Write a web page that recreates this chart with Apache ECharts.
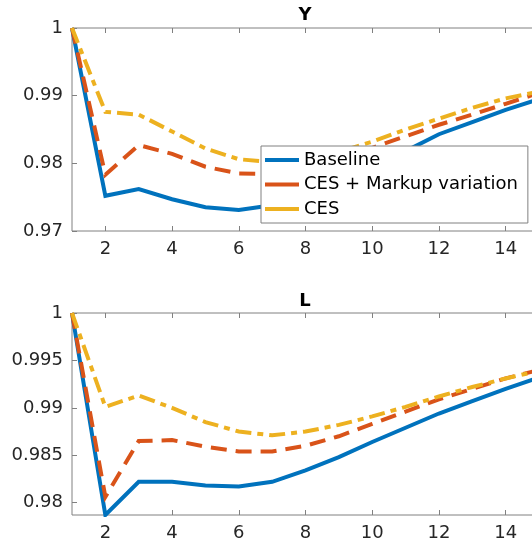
<!DOCTYPE html>
<html>
<head>
<meta charset="utf-8">
<script src="https://cdn.jsdelivr.net/npm/echarts@6/dist/echarts.min.js"></script>
<style>
html,body{margin:0;padding:0;background:#fff;}
#chart{width:532px;height:548px;}
</style>
</head>
<body>
<div id="chart"></div>
<script>
const xs = [1, 2, 3, 4, 5, 6, 7, 8, 9, 10, 11, 12, 13, 14, 15];
const xTicks = [2, 4, 6, 8, 10, 12, 14];

const yBaseline = [1, 0.9752, 0.9762, 0.9747, 0.9735, 0.9731, 0.9738, 0.9755, 0.9775, 0.9797, 0.9818, 0.9843, 0.9861, 0.9879, 0.9895];
const yMarkup   = [1, 0.9783, 0.9827, 0.9814, 0.9795, 0.9785, 0.9784, 0.9792, 0.9806, 0.9823, 0.9840, 0.9857, 0.9872, 0.9888, 0.9904];
const yCES      = [1, 0.9876, 0.9872, 0.9847, 0.9822, 0.9806, 0.9802, 0.9806, 0.9817, 0.9832, 0.9850, 0.9866, 0.9882, 0.9896, 0.9906];
const yTicks = [0.97, 0.98, 0.99, 1];

const lBaseline = [1, 0.9787, 0.9822, 0.9822, 0.9818, 0.9817, 0.9822, 0.9834, 0.9848, 0.9864, 0.9879, 0.9894, 0.9907, 0.9920, 0.9932];
const lMarkup   = [1, 0.9806, 0.9865, 0.9866, 0.9859, 0.9854, 0.9854, 0.9860, 0.9870, 0.9883, 0.9896, 0.9909, 0.9920, 0.9931, 0.9940];
const lCES      = [1, 0.9901, 0.9913, 0.9900, 0.9885, 0.9875, 0.9871, 0.9875, 0.9882, 0.9891, 0.9901, 0.9912, 0.9922, 0.9931, 0.9939];
const lTicks = [0.98, 0.985, 0.99, 0.995, 1];

const names = ['Baseline', 'CES + Markup variation', 'CES'];
const colors = ['#0072BD', '#D95319', '#EDB120'];
const dashes = ['solid', [16, 9], [16, 6, 6, 6]];

function pairs(vals) { return xs.map((x, i) => [x, vals[i]]); }

const FONT = 'DejaVu Sans';
const AX = '#808080';
const TXT = '#262626';

function xAxisDef(grid, pos, labels) {
  return {
    type: 'value', gridIndex: grid, position: pos, min: 1, max: 15,
    axisLine: { show: false },
    splitLine: { show: false },
    axisTick: { show: true, inside: true, length: 5, lineStyle: { color: AX }, customValues: xTicks },
    axisLabel: { show: labels, customValues: xTicks, color: TXT, fontFamily: FONT, fontSize: 18, margin: 9 }
  };
}
function yAxisDef(grid, min, ticks) {
  return {
    type: 'value', gridIndex: grid, min: min, max: 1,
    axisLine: { show: false },
    splitLine: { show: false },
    axisTick: { show: true, inside: true, length: 5, lineStyle: { color: AX }, customValues: ticks },
    axisLabel: {
      customValues: ticks, color: TXT, fontFamily: FONT, fontSize: 18, margin: 9,
      formatter: v => String(parseFloat(Number(v).toFixed(4)))
    }
  };
}

const sets = [[yBaseline, yMarkup, yCES], [lBaseline, lMarkup, lCES]];
const series = [];
sets.forEach((grp, g) => {
  grp.forEach((vals, k) => {
    series.push({
      name: names[k], type: 'line', xAxisIndex: g * 2, yAxisIndex: g,
      data: pairs(vals), showSymbol: false, symbol: 'none', animation: false,
      lineStyle: { color: colors[k], width: 4, type: dashes[k], cap: 'butt', join: 'miter' },
      itemStyle: { color: colors[k] }
    });
  });
});

const chart = echarts.init(document.getElementById('chart'), null, { renderer: 'canvas' });
chart.setOption({
  animation: false,
  backgroundColor: '#fff',
  title: [
    { text: 'Y', left: 300, top: 1, textAlign: 'center', textStyle: { fontFamily: FONT, fontSize: 18, fontWeight: 'bold', color: '#000' } },
    { text: 'L', left: 300, top: 287, textAlign: 'center', textStyle: { fontFamily: FONT, fontSize: 18, fontWeight: 'bold', color: '#000' } }
  ],
  grid: [
    { left: 72, top: 28, width: 467, height: 203, outerBoundsMode: 'none', containLabel: false, show: true, borderColor: AX, borderWidth: 1, backgroundColor: 'transparent' },
    { left: 72, top: 313, width: 467, height: 202, outerBoundsMode: 'none', containLabel: false, show: true, borderColor: AX, borderWidth: 1, backgroundColor: 'transparent' }
  ],
  xAxis: [xAxisDef(0, 'bottom', true), xAxisDef(0, 'top', false), xAxisDef(1, 'bottom', true), xAxisDef(1, 'top', false)],
  yAxis: [yAxisDef(0, 0.97, yTicks), yAxisDef(1, 'dataMin', lTicks)],
  legend: {
    data: names.map((n, k) => ({ name: n, icon: 'rect', itemStyle: { color: colors[k] } })),
    orient: 'vertical', left: 261, top: 146,
    padding: [3, 10, 3, 4], itemGap: 2.5, itemWidth: 34, itemHeight: 4, itemTextGap: 6,
    backgroundColor: '#fff', borderColor: AX, borderWidth: 1, borderRadius: 0,
    textStyle: { fontFamily: FONT, fontSize: 18, color: '#000', lineHeight: 22 },
    selectedMode: false
  },
  series: series
});
</script>
</body>
</html>
